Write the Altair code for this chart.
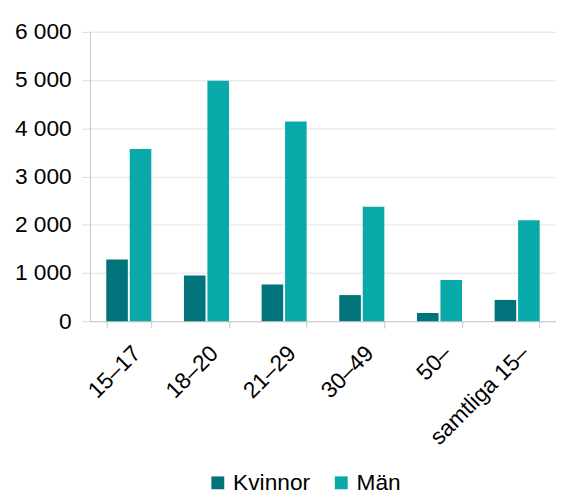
import altair as alt
import pandas as pd

categories = ["15–17", "18–20", "21–29", "30–49", "50–", "samtliga 15–"]
kvinnor = [1280, 945, 760, 540, 170, 440]
man = [3570, 4985, 4140, 2375, 855, 2090]
series = ["Kvinnor", "Män"]
colors = ["#00747a", "#0aa9a9"]
y_ticks = [0, 1000, 2000, 3000, 4000, 5000, 6000]

rows = []
for c, k, m in zip(categories, kvinnor, man):
    rows.append({"Ålder": c, "Kön": "Kvinnor", "Antal": k})
    rows.append({"Ålder": c, "Kön": "Män", "Antal": m})
df = pd.DataFrame(rows)

FONT = "Liberation Sans"
FS = 23

chart = alt.Chart(df).mark_bar().encode(
    x=alt.X(
        "Ålder:N",
        sort=categories,
        title=None,
        scale=alt.Scale(paddingInner=0.42, paddingOuter=0.21),
        axis=alt.Axis(
            labelAngle=-45,
            labelAlign="right",
            labelBaseline="top",
            labelPadding=14,
            labelFontSize=FS,
            labelFont=FONT,
            labelColor="#000000",
            labelLimit=300,
            domainColor="#c8c8c8",
            tickColor="#c8c8c8",
            tickSize=7,
            tickBand="extent",
            grid=False,
        ),
    ),
    xOffset=alt.XOffset(
        "Kön:N", sort=series, scale=alt.Scale(paddingInner=0.08, paddingOuter=0)
    ),
    y=alt.Y(
        "Antal:Q",
        title=None,
        scale=alt.Scale(domain=[0, 6000], nice=False),
        axis=alt.Axis(
            values=y_ticks,
            labelExpr="replace(format(datum.value, ','), ',', ' ')",
            labelFontSize=FS,
            labelFont=FONT,
            labelColor="#000000",
            labelPadding=11,
            domainColor="#c8c8c8",
            tickColor="#d9d9d9",
            tickSize=8,
            gridColor="#ebebeb",
            gridWidth=1.5,
        ),
    ),
    color=alt.Color(
        "Kön:N",
        sort=series,
        scale=alt.Scale(domain=series, range=colors),
        legend=alt.Legend(
            title=None,
            orient="none",
            legendX=118,
            legendY=445,
            direction="horizontal",
            symbolType="square",
            symbolSize=170,
            symbolStrokeWidth=0,
            labelFontSize=FS,
            labelFont=FONT,
            labelColor="#000000",
            labelOffset=4,
            columnPadding=20,
        ),
    ),
).properties(
    width=472,
    height=293,
    autosize=alt.AutoSizeParams(type="none"),
    padding={"left": 83, "top": 21, "right": 0, "bottom": 178},
).configure_view(stroke=None)

chart.save("out.html", embed_options={"renderer": "svg", "actions": False})
